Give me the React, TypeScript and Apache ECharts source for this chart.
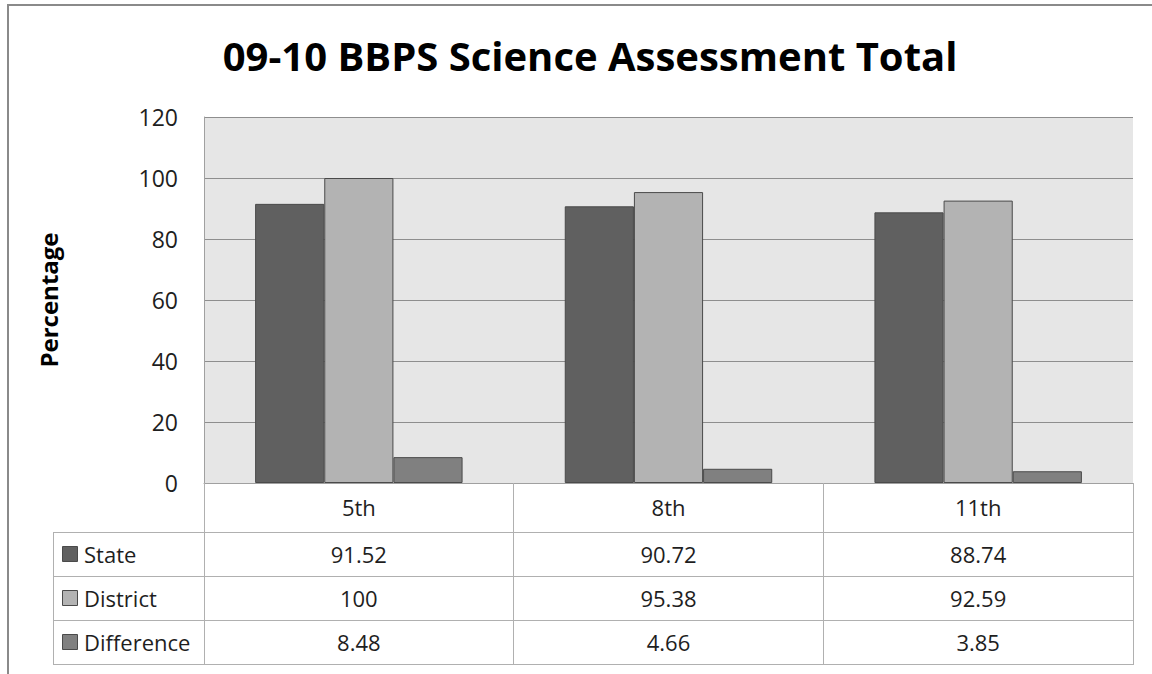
import React, { useEffect, useRef } from "react";
import * as echarts from "echarts";

const titleText = "09-10 BBPS Science Assessment Total";
const yAxisName = "Percentage";
const categories = ["5th", "8th", "11th"];
const seriesNames = ["State", "District", "Difference"];
const stateValues = [91.52, 90.72, 88.74];
const districtValues = [100, 95.38, 92.59];
const differenceValues = [8.48, 4.66, 3.85];
const seriesColors = ["#606060", "#b3b3b3", "#808080"];
const yMin = 0;
const yMax = 120;
const yInterval = 20;

const FONT = "'Open Sans', 'Noto Sans', sans-serif";
const TEXT_COLOR = "#1e1e1e";

export default function App() {
  const ref = useRef<HTMLDivElement>(null);

  useEffect(() => {
    document.body.style.margin = "0";
    const chart = echarts.init(ref.current!, null, { renderer: "svg" });
    const allValues = [stateValues, districtValues, differenceValues];

    const gridLeft = 204;
    const gridRight = 19;
    const gridTop = 117;
    const gridBottom = 191;
    const W = 1152;
    const H = 674;
    const axisY = H - gridBottom; // 483
    const rowH = 44;
    const headerBottom = 532;
    const tableLeft = 53;
    const tableRight = W - gridRight;

    chart.setOption({
      animation: false,
      backgroundColor: "#ffffff",
      title: {
        text: titleText,
        left: 585,
        top: 30,
        textAlign: "center",
        textStyle: {
          fontFamily: FONT,
          fontSize: 40,
          fontWeight: "bold",
          color: "#000000",
        },
      },
      grid: {
        left: gridLeft,
        right: gridRight,
        top: gridTop,
        bottom: gridBottom,
        show: true,
        backgroundColor: "#e6e6e6",
        borderWidth: 0,
      },
      xAxis: {
        type: "category",
        data: categories,
        axisLine: { show: true, lineStyle: { color: "#a0a0a0", width: 1 } },
        axisTick: {
          show: true,
          length: 665 - axisY,
          interval: 0,
          lineStyle: { color: "#b0b0b0", width: 1 },
        },
        axisLabel: {
          show: true,
          interval: 0,
          margin: 24,
          verticalAlign: "middle",
          fontFamily: FONT,
          fontSize: 22,
          color: TEXT_COLOR,
        },
      },
      yAxis: {
        type: "value",
        min: yMin,
        max: yMax,
        interval: yInterval,
        name: yAxisName,
        nameLocation: "middle",
        nameRotate: 90,
        nameGap: 144,
        nameTextStyle: {
          fontFamily: FONT,
          fontSize: 24,
          fontWeight: "bold",
          color: "#000000",
        },
        axisLine: { show: true, lineStyle: { color: "#a0a0a0", width: 1 } },
        axisTick: { show: false },
        axisLabel: {
          margin: 26,
          fontFamily: FONT,
          fontSize: 23,
          color: TEXT_COLOR,
        },
        splitLine: { show: true, lineStyle: { color: "#8e8e8e", width: 1 } },
      },
      series: seriesNames.map((name, i) => ({
        name,
        type: "bar",
        data: allValues[i],
        barGap: "0%",
        barCategoryGap: "33%",
        itemStyle: {
          color: seriesColors[i],
          borderColor: "#4a4a4a",
          borderWidth: 1,
        },
      })),
    });

    const catX = categories.map((c) => chart.convertToPixel({ xAxisIndex: 0 }, c) as number);

    const graphics: any[] = [];
    // outer frame
    graphics.push({
      type: "line",
      shape: { x1: 7, y1: 5, x2: W, y2: 5 },
      style: { stroke: "#8a8a8a", lineWidth: 2 },
      silent: true,
    });
    graphics.push({
      type: "line",
      shape: { x1: 8, y1: 4, x2: 8, y2: H },
      style: { stroke: "#8a8a8a", lineWidth: 2 },
      silent: true,
    });
    // table horizontal lines
    for (let r = 0; r <= seriesNames.length; r++) {
      const y = headerBottom + r * rowH;
      graphics.push({
        type: "line",
        shape: { x1: tableLeft, y1: y + 0.5, x2: tableRight, y2: y + 0.5 },
        style: { stroke: "#b0b0b0", lineWidth: 1 },
        silent: true,
      });
    }
    // table left vertical line
    graphics.push({
      type: "line",
      shape: {
        x1: tableLeft + 0.5,
        y1: headerBottom,
        x2: tableLeft + 0.5,
        y2: headerBottom + seriesNames.length * rowH + 1,
      },
      style: { stroke: "#b0b0b0", lineWidth: 1 },
      silent: true,
    });
    // rows
    seriesNames.forEach((name, r) => {
      const cy = headerBottom + r * rowH + rowH / 2;
      graphics.push({
        type: "rect",
        shape: { x: 62.5, y: cy - 7.5, width: 15, height: 15 },
        style: { fill: seriesColors[r], stroke: "#4a4a4a", lineWidth: 1 },
        silent: true,
      });
      graphics.push({
        type: "text",
        x: 84,
        y: cy,
        style: {
          text: name,
          fontFamily: FONT,
          fontSize: 22,
          fill: TEXT_COLOR,
          align: "left",
          verticalAlign: "middle",
          textAlign: "left",
          textVerticalAlign: "middle",
        },
        silent: true,
      });
      allValues[r].forEach((v, c) => {
        graphics.push({
          type: "text",
          x: catX[c],
          y: cy,
          style: {
            text: String(v),
            fontFamily: FONT,
            fontSize: 22,
            fill: TEXT_COLOR,
            align: "center",
            verticalAlign: "middle",
            textAlign: "center",
            textVerticalAlign: "middle",
          },
          silent: true,
        });
      });
    });

    chart.setOption({ graphic: graphics });

    return () => chart.dispose();
  }, []);

  return <div ref={ref} style={{ width: 1152, height: 674 }} />;
}
